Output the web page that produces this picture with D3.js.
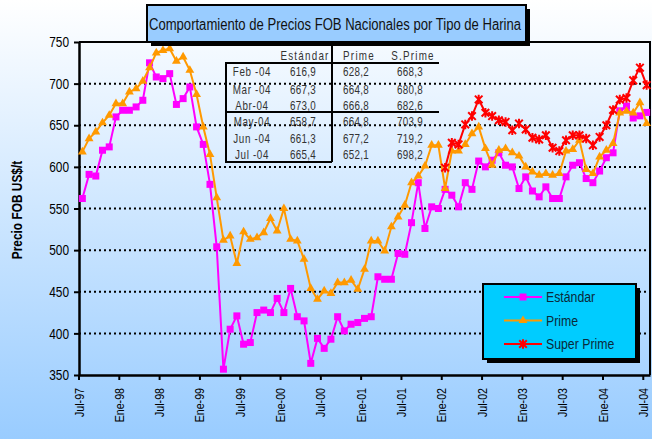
<!DOCTYPE html>
<html>
<head>
<meta charset="utf-8">
<script src="https://cdn.jsdelivr.net/npm/d3@7"></script>
<style>
  body { margin: 0; }
  svg { display: block; }
</style>
</head>
<body>
<div id="chart"></div>
<script>
// monthly categories, Jul-97 .. Jul-04
const mesNombres = ["Ene","Feb","Mar","Abr","May","Jun","Jul","Ago","Sep","Oct","Nov","Dic"];
const months = [];
for (let k = 0; k < 85; k++) {
  const m = (6 + k) % 12, yr = 97 + Math.floor((6 + k) / 12);
  months.push(mesNombres[m] + "-" + String(yr % 100).padStart(2, "0"));
}

const estandar = [562,591,589,620,624,660,668,668,672,680,725,708,706,712,675,682,696,648,627,579,
  504,357,405,421,387,389,425,428,425,442,425,454,420,415,364,394,382,393,420,403,
  411,413,418,420,468,465,465,496,495,533,581,526,552,550,573,566,552,581,573,607,
  600,608,617,602,600,574,588,571,564,576,562,562,588,602,605,586,581,595,611,616.9,
  667.3,673.0,658.7,661.3,665.4];
const prime = [618,634,642,653,662,676,676,690,694,703,719,737,740,742,727,732,716,687,648,615,
  563,512,517,484,522,513,515,521,538,523,550,513,511,489,454,441,451,448,461,461,
  464,453,477,511,511,499,528,540,554,581,589,601,626,626,574,619,619,627,640,648,
  622,602,620,622,617,613,600,594,590,592,590,592,619,621,632,597,592,612,620,628.2,
  664.8,666.8,664.8,677.2,652.1];
const superPrimeStart = "Ene-02";
const superPrime = [599,629,627,651,661,681,665,661,656,654,644,652,645,635,633,638,623,619,632,638,
  638,634,626,636,650,668.3,680.8,682.6,703.9,719.2,698.2];

const yTicks = [350,400,450,500,550,600,650,700,750];
const yGrid = [400,450,500,550,600,650,700];
const xTickLabels = ["Jul-97","Ene-98","Jul-98","Ene-99","Jul-99","Ene-00","Jul-00","Ene-01",
  "Jul-01","Ene-02","Jul-02","Ene-03","Jul-03","Ene-04","Jul-04"];

const tableHeader = ["Estándar","Prime","S.Prime"];
const tableMonths = ["Feb -04","Mar -04","Abr-04","May-04","Jun -04","Jul -04"];
const tableEstandar = ["616,9","667,3","673,0","658,7","661,3","665,4"];
const tablePrime = ["628,2","664,8","666,8","664,8","677,2","652,1"];
const tableSuper = ["668,3","680,8","682,6","703,9","719,2","698,2"];

const seriesNames = ["Estándar","Prime","Super Prime"];
const colors = ["#ff00ff","#ff9900","#ff0000"];

const W = 652, H = 439;
const FONT = "'Liberation Sans', Arial, sans-serif";
const NARROW = "scale(0.82,1)"; // Arial Narrow look
const plotLeft = 79, plotRight = 650, plotTop = 42, plotBottom = 375;

const svg = d3.select("#chart").append("svg")
  .attr("width", W).attr("height", H)
  .style("font-family", FONT);

const grad = svg.append("defs").append("linearGradient")
  .attr("id", "bg").attr("x1", 0).attr("y1", 0).attr("x2", 0).attr("y2", 1);
grad.append("stop").attr("offset", "0%").attr("stop-color", "#ffffff");
grad.append("stop").attr("offset", "100%").attr("stop-color", "#99ccff");
svg.append("rect").attr("width", W).attr("height", H).attr("fill", "url(#bg)");

const x = d3.scaleBand().domain(months).range([plotLeft, plotRight]).padding(0);
const y = d3.scaleLinear().domain([350, 750]).range([plotBottom, plotTop]);
const cx = m => x(m) + x.bandwidth() / 2;

// grid lines
svg.append("g").selectAll("line").data(yGrid).join("line")
  .attr("x1", plotLeft).attr("x2", plotRight)
  .attr("y1", d => y(d)).attr("y2", d => y(d))
  .attr("stroke", "#000").attr("stroke-width", 2).attr("stroke-dasharray", "2,3");

// frame top / right
svg.append("path")
  .attr("d", `M${plotLeft},${y(750)}H${plotRight}V${plotBottom}`)
  .attr("fill", "none").attr("stroke", "#000").attr("stroke-width", 2);

// y axis
const yAxis = svg.append("g").attr("transform", `translate(${plotLeft},0)`)
  .call(d3.axisLeft(y).tickValues(yTicks).tickSize(5).tickSizeOuter(0));
yAxis.select(".domain").attr("stroke-width", 2.5);
yAxis.selectAll(".tick line").attr("stroke-width", 2);
yAxis.selectAll("text").style("font-size", "14.5px").style("font-family", FONT).attr("fill", "#000")
  .attr("x", 0).attr("transform", `translate(-10,0) ${NARROW}`);

// x axis, ticks at category boundaries
const xAxis = svg.append("g").attr("transform", `translate(0,${plotBottom})`)
  .call(d3.axisBottom(x).tickValues(xTickLabels).tickSize(5).tickSizeOuter(0));
xAxis.selectAll(".tick").attr("transform", d => `translate(${x(d)},0)`);
xAxis.select(".domain").attr("stroke-width", 2.5);
xAxis.selectAll(".tick line").attr("stroke-width", 2);
xAxis.selectAll("text")
  .style("font-size", "13px").style("font-family", FONT).attr("fill", "#000")
  .attr("text-anchor", "end").attr("dy", "0.35em")
  .attr("transform", `translate(0,13) rotate(-90) ${NARROW}`).attr("x", 0).attr("y", 0);

// y label
svg.append("text")
  .attr("transform", `translate(22,210) rotate(-90) ${NARROW}`)
  .attr("text-anchor", "middle")
  .style("font-size", "14.5px").style("font-weight", "bold")
  .text("Precio FOB US$/t");

// series
const data = [
  estandar.map((v, i) => ({ m: months[i], v })),
  prime.map((v, i) => ({ m: months[i], v })),
  superPrime.map((v, i) => ({ m: months[months.indexOf(superPrimeStart) + i], v }))
];
const line = d3.line().x(d => cx(d.m)).y(d => y(d.v));

const starPath = r => `M${-r},${-r}L${r},${r}M${-r},${r}L${r},${-r}M0,${-r * 1.25}V${r * 1.25}`;
function marker(g, k) {
  if (k === 0) {
    g.append("rect").attr("x", -3.5).attr("y", -3.5).attr("width", 7).attr("height", 7)
      .attr("fill", colors[0]);
  } else if (k === 1) {
    g.append("path").attr("d", d3.symbol(d3.symbolTriangle, 34)()).attr("fill", colors[1]);
  } else {
    g.append("path").attr("d", starPath(3.8)).attr("fill", "none")
      .attr("stroke", colors[2]).attr("stroke-width", 2);
  }
}

data.forEach((s, k) => {
  const g = svg.append("g");
  g.append("path").datum(s).attr("d", line)
    .attr("fill", "none").attr("stroke", colors[k]).attr("stroke-width", 2);
  g.selectAll("g").data(s).join("g")
    .attr("transform", d => `translate(${cx(d.m)},${y(d.v)})`)
    .each(function () { marker(d3.select(this), k); });
});

// table
const tbl = svg.append("g").style("font-size", "12px").attr("fill", "#333");
const colX = [252, 303, 356, 410];
const rowY = [72, 90, 106, 122, 139, 155];
tbl.selectAll("text.h").data(tableHeader).join("text")
  .attr("transform", (d, i) => `translate(${colX[i + 1] + (i === 0 ? 2 : 3)},60) ${NARROW}`)
  .attr("text-anchor", "middle").style("letter-spacing", "1.5px").text(d => d);
const cols = [tableMonths, tableEstandar, tablePrime, tableSuper];
cols.forEach((col, c) => {
  tbl.selectAll(`text.c${c}`).data(col).join("text")
    .attr("transform", (d, i) => `translate(${colX[c]},${rowY[i] + 4}) ${NARROW}`)
    .attr("text-anchor", "middle").style("letter-spacing", c === 0 ? "0.8px" : "0.3px")
    .text(d => d);
});
const tl = svg.append("g").attr("stroke", "#000").attr("stroke-width", 2).attr("fill", "none");
tl.append("path").attr("d", "M439,63H226V162H332");
tl.append("path").attr("d", "M332,42V162");
tl.append("path").attr("d", "M226,112H439");

// title
svg.append("rect").attr("x", 151).attr("y", 9).attr("width", 379).attr("height", 37).attr("fill", "#000");
svg.append("rect").attr("x", 147).attr("y", 5).attr("width", 379).attr("height", 37)
  .attr("fill", "#99ccff").attr("stroke", "#000").attr("stroke-width", 2);
svg.append("text").attr("x", 149).attr("y", 29.5)
  .attr("textLength", 372).attr("lengthAdjust", "spacingAndGlyphs")
  .style("font-size", "16px").attr("fill", "#111")
  .text("Comportamiento de Precios FOB Nacionales por Tipo de Harina");

// legend
const lg = svg.append("g");
lg.append("rect").attr("x", 487).attr("y", 288).attr("width", 153).attr("height", 75).attr("fill", "#000");
lg.append("rect").attr("x", 483).attr("y", 284).attr("width", 153).attr("height", 75)
  .attr("fill", "#00ccff").attr("stroke", "#000").attr("stroke-width", 2);
seriesNames.forEach((n, k) => {
  const ly = 297 + k * 23.5;
  lg.append("line").attr("x1", 504).attr("x2", 542).attr("y1", ly).attr("y2", ly)
    .attr("stroke", colors[k]).attr("stroke-width", 2);
  marker(lg.append("g").attr("transform", `translate(523,${ly})`), k);
  lg.append("text").attr("transform", `translate(546,${ly + 5}) ${NARROW}`)
    .style("font-size", "15px").attr("fill", "#0a2a3a").text(n);
});
</script>
</body>
</html>
